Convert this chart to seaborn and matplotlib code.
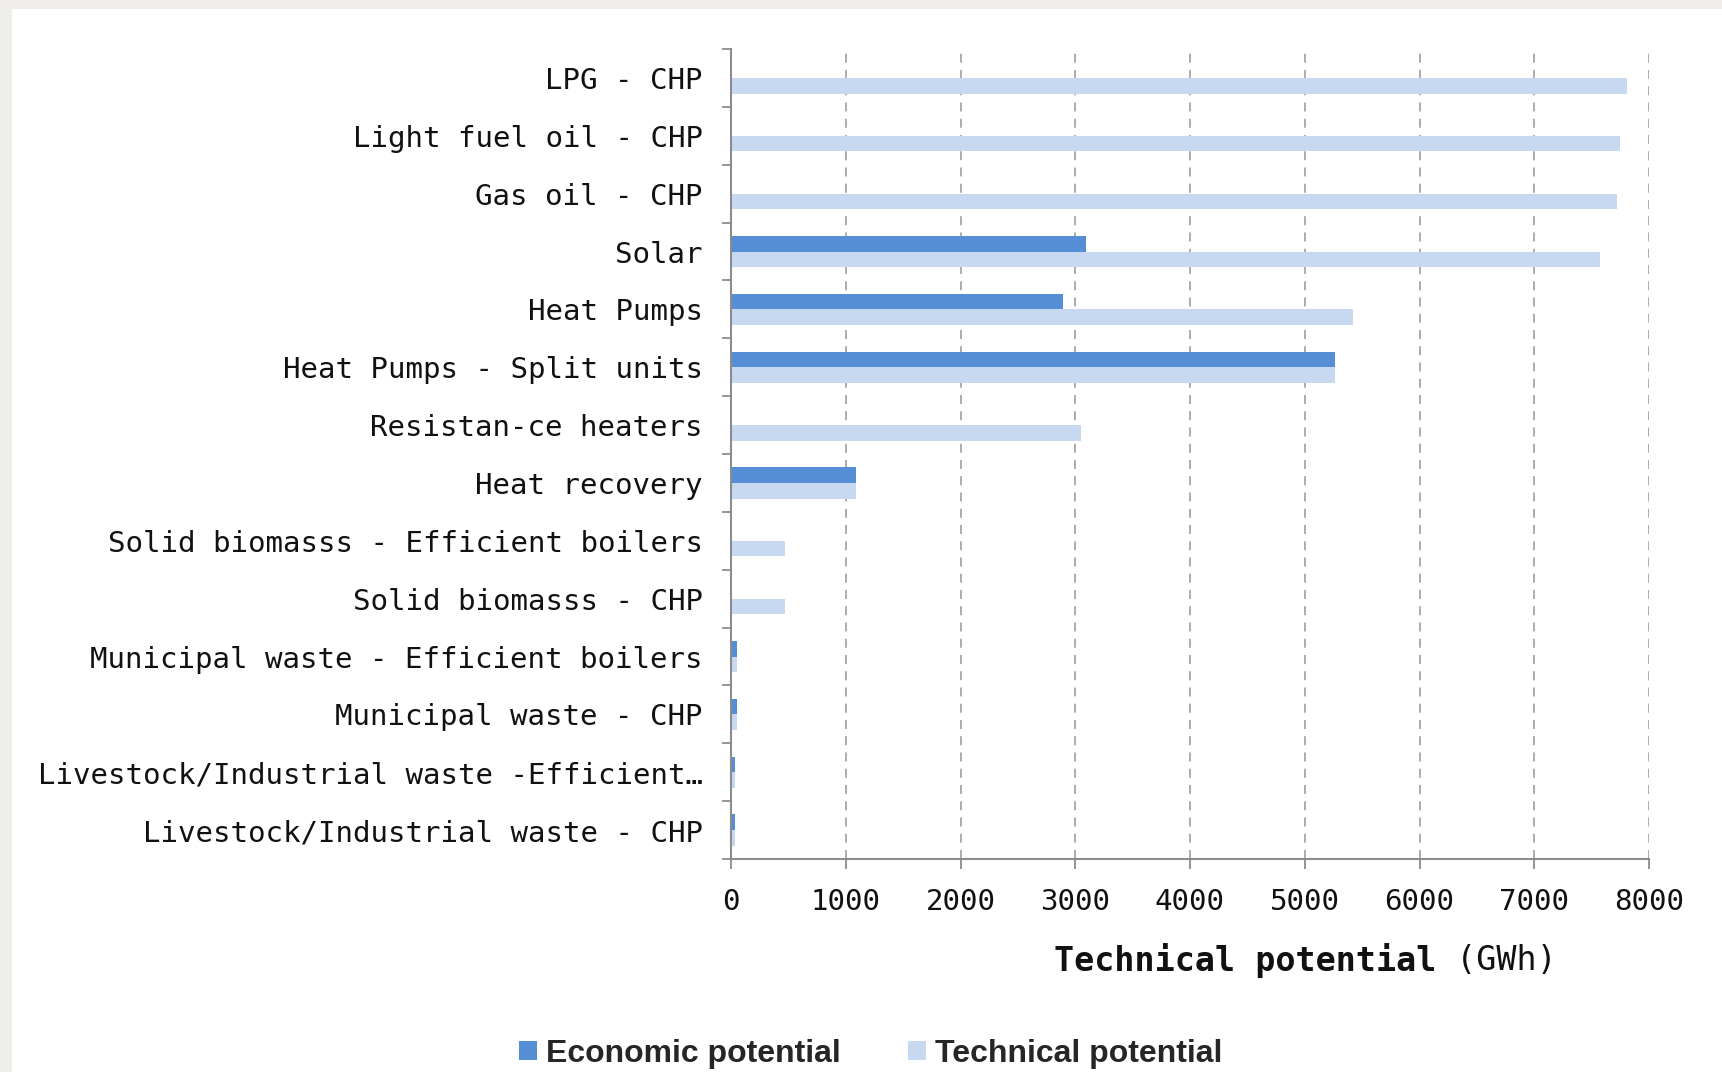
import matplotlib
matplotlib.use("Agg")
import matplotlib.pyplot as plt
from matplotlib.patches import Rectangle
import numpy as np
import pandas as pd
import seaborn as sns

# Heating technologies, listed top to bottom
categories = [
    "LPG - CHP",
    "Light fuel oil - CHP",
    "Gas oil - CHP",
    "Solar",
    "Heat Pumps",
    "Heat Pumps - Split units",
    "Resistan-ce heaters",
    "Heat recovery",
    "Solid biomasss - Efficient boilers",
    "Solid biomasss - CHP",
    "Municipal waste - Efficient boilers",
    "Municipal waste - CHP",
    "Livestock/Industrial waste -Efficient…",
    "Livestock/Industrial waste - CHP",
]

# Potentials in GWh
economic = [0, 0, 0, 3090, 2890, 5260, 0, 1090, 0, 0, 52, 52, 38, 38]
technical = [7810, 7750, 7720, 7570, 5420, 5260, 3050, 1090, 470, 470, 52, 52, 35, 35]

series_names = ["Economic potential", "Technical potential"]
series_colors = ["#558ED5", "#C6D9F1"]
x_ticks = [0, 1000, 2000, 3000, 4000, 5000, 6000, 7000, 8000]

df = pd.DataFrame({
    "category": categories * 2,
    "value": economic + technical,
    "series": [series_names[0]] * len(categories) + [series_names[1]] * len(categories),
})

sns.set_theme(style="white")
plt.rcParams["font.family"] = ["DejaVu Sans Mono"]

fig = plt.figure(figsize=(17.22, 10.72), dpi=100)
fig.patch.set_facecolor("white")

# light textured frame on the top and left edges
frame_col = "#efeeeb"
fig.patches.append(Rectangle((0, 1 - 9 / 1072), 1, 9 / 1072, transform=fig.transFigure,
                             facecolor=frame_col, edgecolor="none", zorder=-5))
fig.patches.append(Rectangle((0, 0), 12 / 1722, 1, transform=fig.transFigure,
                             facecolor=frame_col, edgecolor="none", zorder=-5))

ax = fig.add_axes([731 / 1722, 1 - 859 / 1072, (1649 - 731) / 1722, (859 - 49) / 1072])

sns.barplot(data=df, y="category", x="value", hue="series", order=categories,
            hue_order=series_names, palette=series_colors, width=0.54, gap=0,
            saturation=1, errorbar=None, orient="h", linewidth=0, ax=ax)

handles, labels = ax.get_legend_handles_labels()
if ax.legend_ is not None:
    ax.legend_.remove()

axis_col = "#8c8c8c"
ax.set_xlim(0, 8000)
ax.set_ylim(len(categories) - 0.5, -0.5)
ax.set_xticks(x_ticks)
ax.set_xticklabels([str(v) for v in x_ticks])
ax.set_axisbelow(True)
ax.xaxis.grid(True, linestyle=(0, (5, 4)), color="#a6a6a6", linewidth=1.3)
ax.yaxis.grid(False)

for side in ["top", "right"]:
    ax.spines[side].set_visible(False)
for side in ["left", "bottom"]:
    ax.spines[side].set_color(axis_col)
    ax.spines[side].set_linewidth(1.5)

# category separators as minor ticks on the y axis
ax.set_yticks(np.arange(-0.5, len(categories), 1.0), minor=True)
ax.tick_params(axis="y", which="major", length=0, pad=20.5, labelsize=21, labelcolor="#111111")
ax.tick_params(axis="y", which="minor", left=True, length=6.5, width=1.3, color=axis_col,
               direction="out")
ax.tick_params(axis="x", which="major", bottom=True, length=7, width=1.3, color=axis_col,
               direction="out", pad=14, labelsize=21, labelcolor="#111111")
ax.set_xlabel("")
ax.set_ylabel("")
for lbl in ax.get_yticklabels():
    lbl.set_y(lbl.get_position()[1])
    lbl.set_verticalalignment("center_baseline")

# axis title: bold quantity followed by regular unit
t1 = fig.text(1054 / 1722, 1 - 960 / 1072, "Technical potential", fontsize=24,
              fontweight="bold", ha="left", va="center", color="#111111")
ax.annotate(" (GWh)", xy=(1, 0.5), xycoords=t1, fontsize=24, ha="left", va="center",
            color="#111111", annotation_clip=False)

fig.legend(handles, labels, loc="center", bbox_to_anchor=(871 / 1722, 1 - 1054 / 1072),
           ncol=2, frameon=False,
           prop={"family": ["Liberation Sans"], "weight": "bold", "size": 23},
           handlelength=0.55, handleheight=0.55, handletextpad=0.3, columnspacing=2.1)

fig.savefig("out.png", dpi=100)
